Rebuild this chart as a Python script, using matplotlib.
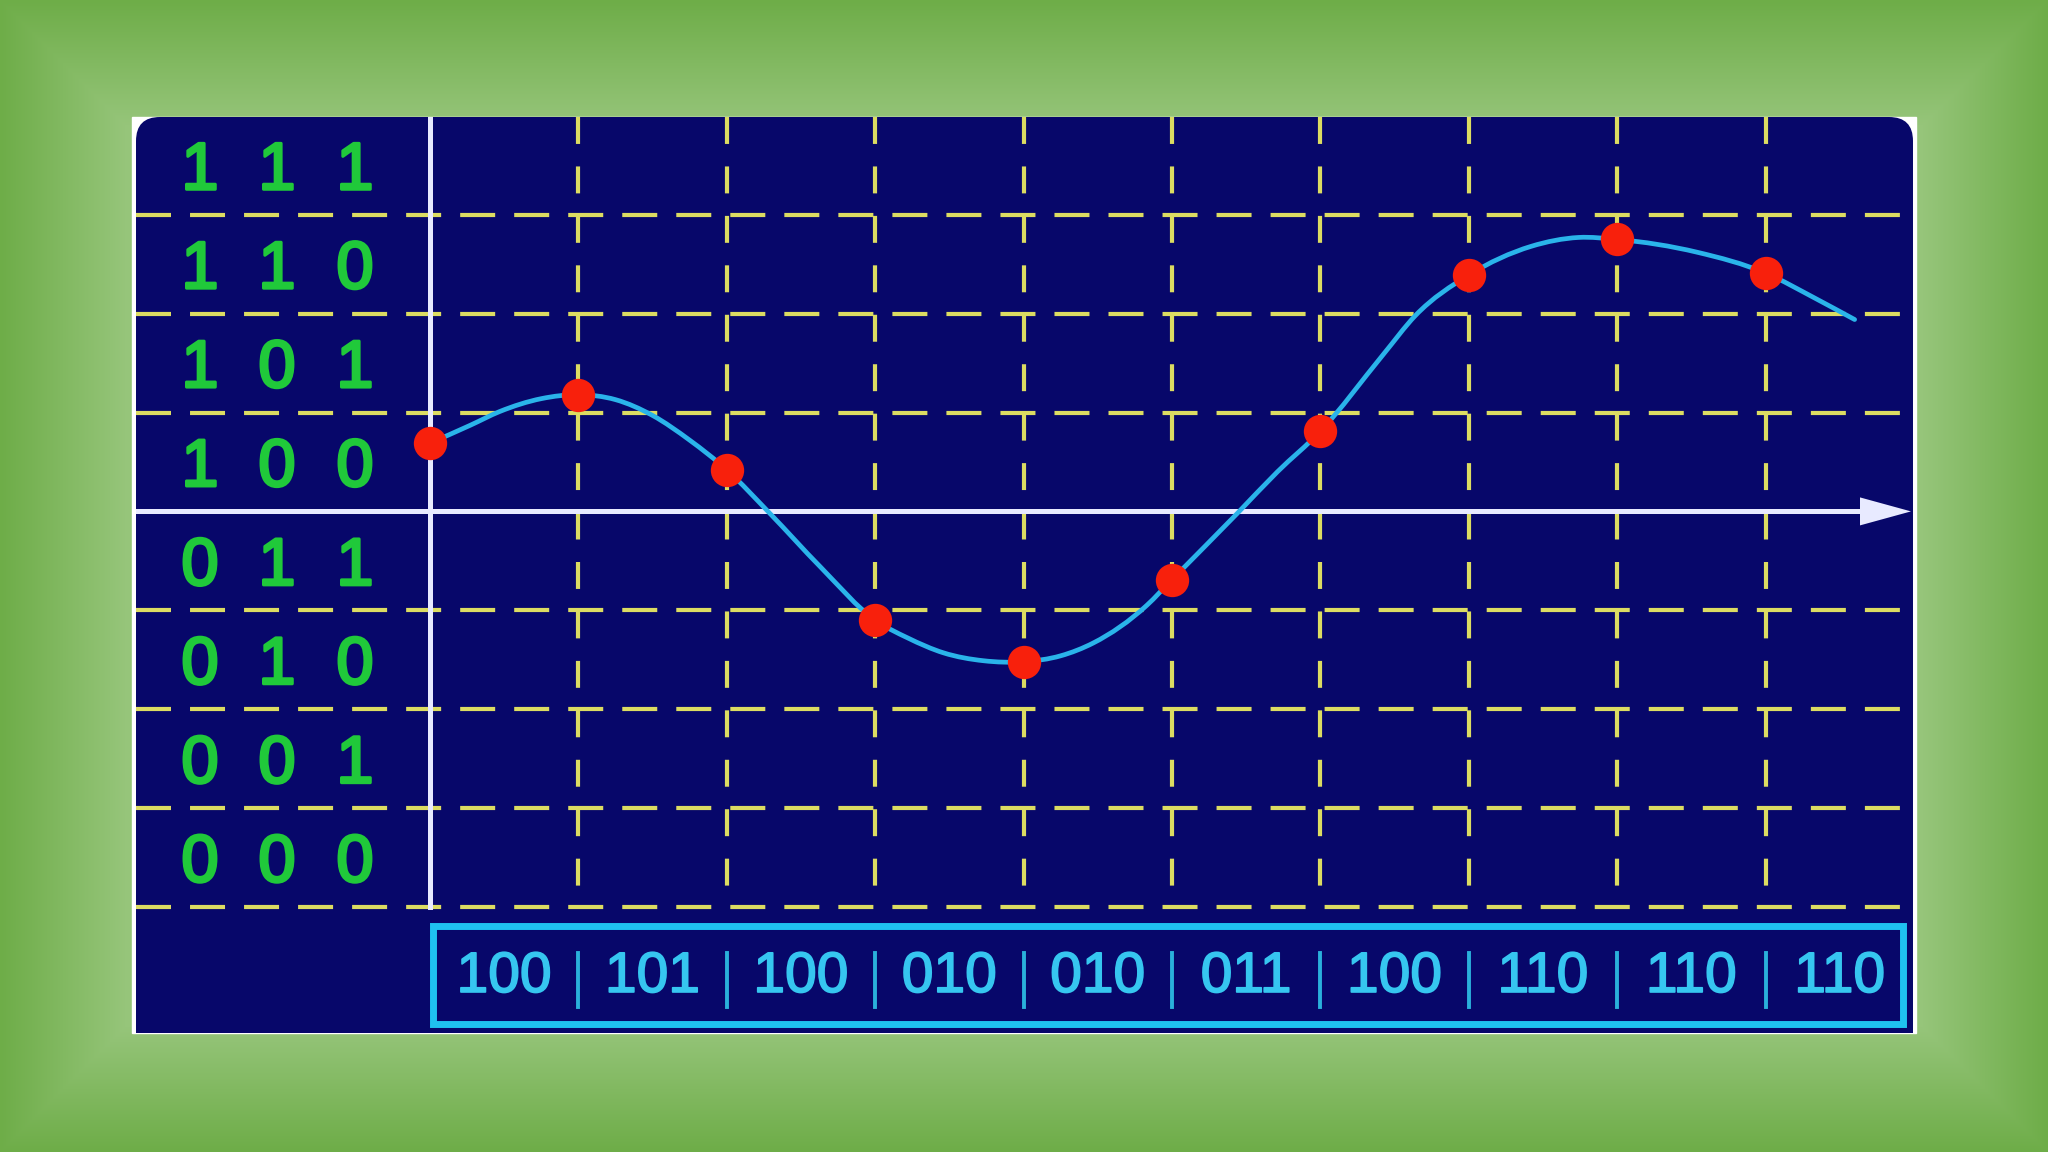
import numpy as np
import matplotlib.pyplot as plt
import matplotlib.patheffects as pe
from matplotlib.patches import FancyBboxPatch, Rectangle, Polygon, PathPatch
from matplotlib.path import Path

plt.rcParams['lines.scale_dashes'] = False

# sampled signal: time step and level (in quantisation steps)
sample_t = [0, 1, 2, 3, 4, 5, 6, 7, 8, 9]
sample_v = [4.69, 5.18, 4.42, 2.90, 2.48, 3.31, 4.81, 6.39, 6.75, 6.41]
codes = ['100', '101', '100', '010', '010', '011', '100', '110', '110', '110']
level_labels = ['000', '001', '010', '011', '100', '101', '110', '111']

# analog curve
curve_t = [0.00, 0.27, 0.47, 0.75, 1.00, 1.25, 1.50, 1.75, 2.00, 2.29, 2.63, 3.00,
           3.22, 3.46, 3.73, 4.00, 4.25, 4.47, 4.83, 5.00, 5.44, 5.71, 6.00, 6.42,
           6.64, 7.00, 7.42, 7.74, 8.00, 8.54, 9.00, 9.34, 9.60]
curve_v = [4.69, 4.87, 5.01, 5.14, 5.18, 5.13, 4.97, 4.72, 4.42, 3.98, 3.44, 2.90,
           2.72, 2.57, 2.49, 2.48, 2.54, 2.67, 3.05, 3.31, 3.98, 4.40, 4.81, 5.58,
           5.98, 6.39, 6.68, 6.77, 6.75, 6.62, 6.41, 6.15, 5.94]

# pixel layout of the picture
W, H = 2048, 1152
X0, PX_T = 430, 148.4      # t=0 column, pixels per step
Y0, PX_V = 907, 98.9       # level 0 row, pixels per level
P_L, P_R, P_T, P_B = 136, 1913, 117, 1033


def tx(px):
    return (px - X0) / PX_T


def vy(py):
    return (Y0 - py) / PX_V


def smooth_path(xs, ys):
    xs = np.asarray(xs, float)
    ys = np.asarray(ys, float)
    m = np.gradient(ys, xs)
    verts = [(xs[0], ys[0])]
    kinds = [Path.MOVETO]
    for i in range(len(xs) - 1):
        h = xs[i + 1] - xs[i]
        verts += [(xs[i] + h / 3, ys[i] + m[i] * h / 3),
                  (xs[i + 1] - h / 3, ys[i + 1] - m[i + 1] * h / 3),
                  (xs[i + 1], ys[i + 1])]
        kinds += [Path.CURVE4] * 3
    return Path(verts, kinds)


fig = plt.figure(figsize=(W / 100, H / 100), dpi=100)

# green frame background
bg = fig.add_axes([0, 0, 1, 1])
bg.set_xlim(0, W)
bg.set_ylim(H, 0)
bg.axis('off')
yy, xx = np.mgrid[0:H, 0:W]
d = np.minimum.reduce([xx, W - 1 - xx, yy, H - 1 - yy]).astype(float)
f = np.clip(d / 125.0, 0, 1)[..., None]
outer = np.array([0x6e, 0xad, 0x48]) / 255
inner = np.array([0x96, 0xc5, 0x7a]) / 255
bg.imshow(outer * (1 - f) + inner * f, extent=[0, W, H, 0], aspect='auto')

bg.add_patch(Rectangle((P_L - 4, P_T), P_R - P_L + 7, P_B - P_T, color='white'))
navy = '#07076a'
bg.add_patch(FancyBboxPatch((P_L, P_T), P_R - P_L, P_B - P_T,
                            boxstyle='round,pad=0,rounding_size=24', fc=navy, ec='none'))
bg.add_patch(Rectangle((P_L, 600), P_R - P_L, P_B - 600, fc=navy, ec='none'))

# chart axes on the panel
ax = fig.add_axes([P_L / W, (H - P_B) / H, (P_R - P_L) / W, (P_B - P_T) / H])
ax.set_xlim(tx(P_L), tx(P_R))
ax.set_ylim(vy(P_B), vy(P_T))
ax.axis('off')
ax.patch.set_alpha(0)

yellow = '#dcdc62'
for lv in [0, 1, 2, 3, 5, 6, 7]:
    ax.plot([tx(P_L), tx(1902)], [lv, lv], color=yellow, lw=3.0,
            linestyle=(0, (25.2, 13.7)), dash_capstyle='butt', zorder=2)
for k in range(1, 10):
    ax.plot([k, k], [vy(P_T), 0], color=yellow, lw=3.0,
            linestyle=(0, (19.4, 16.2)), dash_capstyle='butt', zorder=2)

# axes with arrow
white = '#e8eaff'
ax.plot([0, 0], [0, vy(P_T)], color=white, lw=3.6, zorder=3)
ax.plot([tx(P_L), tx(1870)], [4, 4], color=white, lw=3.6, zorder=3)
hh = 14 / PX_V
ax.add_patch(Polygon([[tx(1860), 4 + hh], [tx(1911), 4], [tx(1860), 4 - hh]],
                     closed=True, fc=white, ec='none', zorder=3))

# level labels
green = '#20c93a'
cap = 24 / PX_V
for i, lab in enumerate(level_labels):
    for px, ch in zip([200, 277, 355], lab):
        ax.text(tx(px), i + 0.5 - cap, ch, ha='center', va='baseline',
                fontsize=48, color=green, family='Liberation Sans', zorder=4,
                path_effects=[pe.withStroke(linewidth=2.2, foreground=green)])

# analog signal and samples
ax.add_patch(PathPatch(smooth_path(curve_t, curve_v), fill=False, ec='#2ab4ea',
                       lw=3.4, capstyle='round', zorder=5))
ax.plot(sample_t, sample_v, 'o', ms=24, color='#f8200c', mec='none', zorder=6)

# code strip
cyan = '#1fc2f0'
text_cyan = '#36c6f0'
ax.add_patch(Rectangle((tx(433), vy(1024)), tx(1903) - tx(433), vy(926) - vy(1024),
                       fill=False, ec=cyan, lw=5, zorder=4))
for k, c in enumerate(codes):
    ax.text(k + 0.5, vy(992), c, ha='center', va='baseline', fontsize=41,
            color=text_cyan, family='Liberation Sans', zorder=5,
            path_effects=[pe.withStroke(linewidth=1.2, foreground=text_cyan)])
    if k > 0:
        ax.plot([k, k], [vy(953), vy(1007)], color='#2ab0dc', lw=2.8, zorder=5)

fig.savefig('out.png', dpi=100)
